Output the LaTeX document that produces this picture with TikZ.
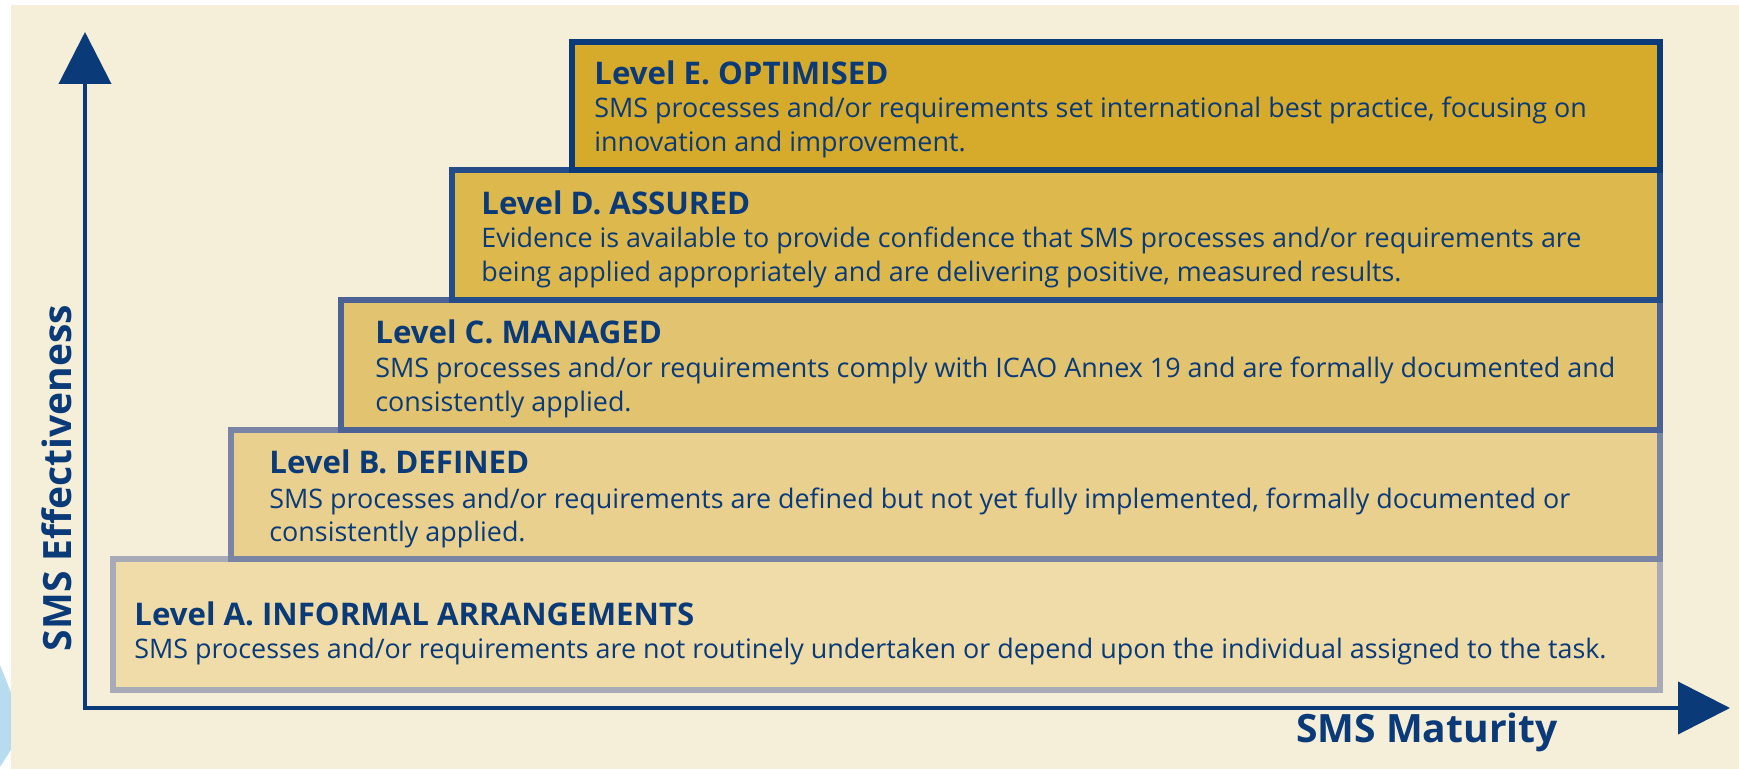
\documentclass[tikz,border=0pt]{standalone}
\usepackage{fontspec}
\setmainfont{Open Sans}
\usetikzlibrary{arrows.meta}
\definecolor{navy}{HTML}{0B3A78}
\definecolor{paper}{HTML}{F5EED8}
\definecolor{skyblue}{HTML}{B7DCF0}
\definecolor{fillA}{HTML}{EFDCA8}
\definecolor{fillB}{HTML}{E9D08F}
\definecolor{fillC}{HTML}{E2C36F}
\definecolor{fillD}{HTML}{DDB84D}
\definecolor{fillE}{HTML}{D6AA2A}
\definecolor{lineA}{HTML}{A9AAB8}
\definecolor{lineB}{HTML}{7A85A6}
\definecolor{lineC}{HTML}{4D6294}
\definecolor{lineD}{HTML}{234C88}
\definecolor{lineE}{HTML}{0B3A78}
\begin{document}
\begin{tikzpicture}[x=0.5pt, y=-0.5pt, line join=miter, >={Triangle[length=26pt,width=26pt]},
	level/.style={line width=2.8pt},
	title/.style={anchor=base west, inner sep=0pt, text=navy, font=\fontsize{15.6}{17}\selectfont\bfseries},
	body/.style={anchor=base west, inner sep=0pt, text=navy, align=left, font=\fontsize{13.45}{17}\selectfont},
	axisname/.style={inner sep=0pt, text=navy, font=\fontsize{19.5}{24}\selectfont\bfseries}]
	\useasboundingbox (0,0) rectangle (1739,769);
	\fill[skyblue] (0,665) -- (14,700) -- (14,745) -- (0,767) -- cycle;
	\fill[paper] (11,5) rectangle (1739,769);
	% levels, lowest first
	\draw[level, draw=lineA, fill=fillA] (113,559) rectangle (1660,690);
	\draw[level, draw=lineB, fill=fillB] (231,430) rectangle (1660,559);
	\draw[level, draw=lineC, fill=fillC] (341,300) rectangle (1660,430);
	\draw[level, draw=lineD, fill=fillD] (452,170) rectangle (1660,300);
	\draw[level, draw=lineE, fill=fillE] (572,42) rectangle (1660,170);
	% base of a two-line text is its last line
	\node[title] (titleE) at (594,85) {Level E. OPTIMISED};
	\node[body] (textE) at (594,152) {SMS processes and/or requirements set international best practice, focusing on\\innovation and improvement.};
	\node[title] (titleD) at (481,215) {Level D. ASSURED};
	\node[body] (textD) at (481,282) {Evidence is available to provide confidence that SMS processes and/or requirements are\\being applied appropriately and are delivering positive, measured results.};
	\node[title] (titleC) at (375,344) {Level C. MANAGED};
	\node[body] (textC) at (375,412) {SMS processes and/or requirements comply with ICAO Annex 19 and are formally documented and\\consistently applied.};
	\node[title] (titleB) at (269,474) {Level B. DEFINED};
	\node[body] (textB) at (269,542) {SMS processes and/or requirements are defined but not yet fully implemented, formally documented or\\consistently applied.};
	\node[title] (titleA) at (134,625) {Level A. INFORMAL ARRANGEMENTS};
	\node[body] (textA) at (134,658) {SMS processes and/or requirements are not routinely undertaken or depend upon the individual assigned to the task.};
	% axes
	\draw[navy, line width=2pt, <->] (85,32) -- (85,708) -- (1730,708);
	\node[axisname, rotate=90] (effect) at (57,478) {SMS Effectiveness};
	\node[axisname] (maturity) at (1427,732) {SMS Maturity};
\end{tikzpicture}
\end{document}
